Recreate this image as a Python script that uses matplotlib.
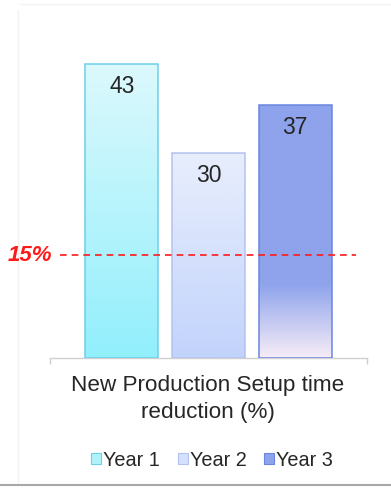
import numpy as np
import matplotlib

matplotlib.use("Agg")
import matplotlib.pyplot as plt
import matplotlib.patches as mpatches
import matplotlib.lines as mlines
from matplotlib.colors import LinearSegmentedColormap
from matplotlib.transforms import blended_transform_factory

plt.rcParams.update({"font.family": ["Liberation Sans", "DejaVu Sans"]})

# ---------------------------------------------------------------------------
# Data
# ---------------------------------------------------------------------------
series = ["Year 1", "Year 2", "Year 3"]
values = [43, 30, 37]
target = 15
target_label = "15%"
category = "New Production Setup time\nreduction (%)"

# gradient stops (position from bar bottom, colour) and edge colour per series
gradients = [
    [(0.0, "#92effc"), (1.0, "#dcf9fd")],
    [(0.0, "#c2d3fc"), (1.0, "#e8eefc")],
    [(0.0, "#f7ecf7"), (0.29, "#8ea3ec"), (1.0, "#8ea3ec")],
]
edges = ["#6ccfeb", "#b3c3f0", "#6a86e0"]
legend_faces = ["#b0f2fc", "#d6e0fc", "#8ea3ec"]

W, H = 391, 488
fig = plt.figure(figsize=(W / 100, H / 100), dpi=100)

# faint chart-area border and bottom shadow, kept behind everything else
fig.add_artist(mlines.Line2D([18 / W, 18 / W], [0.01, 1 - 10 / H], transform=fig.transFigure,
                             color="#f2f2f2", lw=1, zorder=-5))
fig.add_artist(mlines.Line2D([20 / W, 1], [1 - 4 / H, 1 - 4 / H], transform=fig.transFigure,
                             color="#f4f4f4", lw=1, zorder=-5))
fig.add_artist(mlines.Line2D([0, 1], [3 / H, 3 / H], transform=fig.transFigure,
                             color="#a8a8a8", lw=1.5, zorder=-5))

ax = fig.add_axes([50 / W, (H - 358) / H, 317 / W, 342 / H])

x = np.arange(len(values)) - 1.0
width = 0.84

for xi, v, stops, ec in zip(x, values, gradients, edges):
    cmap = LinearSegmentedColormap.from_list("g", stops)
    grad = np.linspace(0, 1, 256).reshape(-1, 1)
    bar = ax.bar(xi, v, width, facecolor="none", edgecolor=ec, lw=1.1, zorder=3)[0]
    im = ax.imshow(
        grad,
        cmap=cmap,
        origin="lower",
        aspect="auto",
        extent=(xi - width / 2, xi + width / 2, 0, v),
        zorder=2,
        interpolation="bicubic",
    )
    im.set_clip_path(bar)
    ax.annotate(
        str(v),
        (xi, v),
        xytext=(0, -16),
        textcoords="offset points",
        ha="center",
        va="center",
        fontsize=16.5,
        color="#262626",
    )

ax.set_xlim(-1.828, 1.828)
ax.set_ylim(0, 50)

# target line
ax.axhline(target, xmin=0.03, xmax=0.965, color="#ff1a1a", lw=1.2, ls=(0, (4, 3)), zorder=4)
trans = blended_transform_factory(ax.transAxes, ax.transData)
ax.text(
    0.007,
    target,
    target_label,
    transform=trans,
    ha="right",
    va="center",
    fontsize=16,
    fontweight="bold",
    fontstyle="italic",
    color="#ff1a1a",
    clip_on=False,
)

for s in ["top", "right", "left"]:
    ax.spines[s].set_visible(False)
ax.spines["bottom"].set_color("#d0d0d0")
ax.spines["bottom"].set_linewidth(1.0)
ax.set_yticks([])
ax.set_xticks([-1.828, 1.828])
ax.set_xticklabels([])
ax.tick_params(axis="x", length=4, color="#d0d0d0", width=1.0)
ax.patch.set_visible(False)

fig.text(
    208 / W,
    (H - 399) / H,
    category,
    ha="center",
    va="center",
    fontsize=16.2,
    color="#262626",
    linespacing=1.4,
)

handles = [
    mpatches.Patch(facecolor=fc, edgecolor=ec, lw=0.8, label=s)
    for fc, ec, s in zip(legend_faces, edges, series)
]
fig.legend(
    handles=handles,
    loc="center",
    bbox_to_anchor=(212 / W, (H - 460) / H),
    ncol=3,
    frameon=False,
    fontsize=14.3,
    handlelength=0.5,
    handleheight=0.5,
    handletextpad=0.1,
    columnspacing=0.9,
    labelcolor="#262626",
)

fig.savefig("out.png", dpi=100)
